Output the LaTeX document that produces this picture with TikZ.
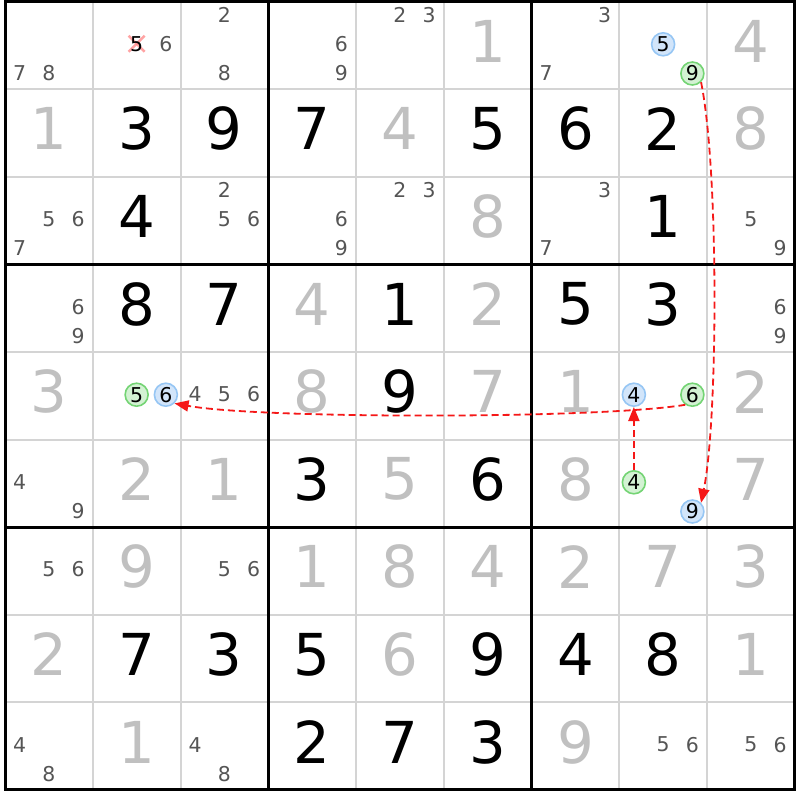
\documentclass[tikz,border=0pt]{standalone}
\usepackage{fontspec}
\setmainfont{DejaVu Sans}
\usetikzlibrary{arrows.meta}
\definecolor{candgray}{HTML}{555555}
\definecolor{solvedgray}{HTML}{C0C0C0}
\definecolor{minorline}{HTML}{D4D4D4}
\definecolor{bluefill}{HTML}{D2E5FA}
\definecolor{bluedraw}{HTML}{96C6F4}
\definecolor{greenfill}{HTML}{D3F2D3}
\definecolor{greendraw}{HTML}{74D474}
\definecolor{linkred}{HTML}{F51818}
\begin{document}
\begin{tikzpicture}[x=1bp,y=-1bp,
  big/.style={inner sep=0pt, font=\fontsize{58}{58}\selectfont},
  given/.style={big, text=black},
  solved/.style={big, text=solvedgray},
  cand/.style={inner sep=0pt, font=\fontsize{20.5}{20.5}\selectfont, text=candgray},
  circ/.style={circle, line width=1.6bp, minimum size=23bp, inner sep=0pt, font=\fontsize{20.5}{20.5}\selectfont, text=black},
  bluec/.style={circ, draw=bluedraw, fill=bluefill},
  greenc/.style={circ, draw=greendraw, fill=greenfill},
  minor/.style={draw=minorline, line width=2bp},
  major/.style={draw=black, line width=3bp},
  link/.style={draw=linkred, dash pattern=on 7bp off 4bp, line width=1.8bp, -{Triangle[length=14bp,width=11bp]}},
  xmark/.style={draw=red!45, line width=2.5bp, opacity=0.8}
]
\def\xo{5}\def\yo{1.5}\def\cw{87.75}\def\ch{87.6}
\useasboundingbox (0,0) rectangle (800,800);
\fill[white] (0,0) rectangle (800,800);
% grid
\foreach \i in {1,2,4,5,7,8} {
  \draw[minor] ({\xo+\i*\cw},\yo) -- ({\xo+\i*\cw},{\yo+9*\ch});
  \draw[minor] (\xo,{\yo+\i*\ch}) -- ({\xo+9*\cw},{\yo+\i*\ch});
}
\foreach \i in {3,6} {
  \draw[major] ({\xo+\i*\cw},\yo) -- ({\xo+\i*\cw},{\yo+9*\ch});
  \draw[major] (\xo,{\yo+\i*\ch}) -- ({\xo+9*\cw},{\yo+\i*\ch});
}
\draw[major] (\xo,\yo) rectangle ({\xo+9*\cw},{\yo+9*\ch});
% given digits
\foreach \r/\c/\d in {2/2/3,2/3/9,2/4/7,2/6/5,2/7/6,2/8/2,3/2/4,3/8/1,
  4/2/8,4/3/7,4/5/1,4/7/5,4/8/3,5/5/9,6/4/3,6/6/6,
  8/2/7,8/3/3,8/4/5,8/6/9,8/7/4,8/8/8,9/4/2,9/5/7,9/6/3}
  \node[given] (v\r\c) at ({\xo+(\c-0.5)*\cw},{\yo+(\r-0.5)*\ch-4}) {\d};
% solved digits
\foreach \r/\c/\d in {1/6/1,1/9/4,2/1/1,2/5/4,2/9/8,3/6/8,4/4/4,4/6/2,
  5/1/3,5/4/8,5/6/7,5/7/1,5/9/2,6/2/2,6/3/1,6/5/5,6/7/8,6/9/7,
  7/2/9,7/4/1,7/5/8,7/6/4,7/7/2,7/8/7,7/9/3,8/1/2,8/5/6,8/9/1,9/2/1,9/7/9}
  \node[solved] (v\r\c) at ({\xo+(\c-0.5)*\cw},{\yo+(\r-0.5)*\ch-4}) {\d};
% candidates
\foreach \r/\c/\d in {1/1/7,1/1/8,1/2/6,1/3/2,1/3/8,1/4/6,1/4/9,1/5/2,1/5/3,1/7/3,1/7/7,
  3/1/5,3/1/6,3/1/7,3/3/2,3/3/5,3/3/6,3/4/6,3/4/9,3/5/2,3/5/3,3/7/3,3/7/7,3/9/5,3/9/9,
  4/1/6,4/1/9,4/9/6,4/9/9,5/3/4,5/3/5,5/3/6,6/1/4,6/1/9,7/1/5,7/1/6,7/3/5,7/3/6,
  9/1/4,9/1/8,9/3/4,9/3/8,9/8/5,9/8/6,9/9/5,9/9/6} {
  \pgfmathsetmacro\px{\xo+(\c-1)*\cw+(mod(\d-1,3)+0.5)*\cw/3}
  \pgfmathsetmacro\py{\yo+(\r-1)*\ch+(floor((\d-1)/3)+0.5)*\ch/3-1.5}
  \node[cand] (k\r\c\d) at (\px,\py) {\d};
}
% eliminated candidate
\coordinate (x125) at ({\xo+\cw+1.5*\cw/3},{\yo+1.5*\ch/3-1.5});
\draw[xmark] ([shift={(-8,-8)}]x125) -- ([shift={(8,8)}]x125);
\draw[xmark] ([shift={(-8,8)}]x125) -- ([shift={(8,-8)}]x125);
\node[cand, text=black] (k125) at (x125) {5};
% highlighted candidates
\foreach \r/\c/\d/\s in {1/8/5/bluec,1/8/9/greenc,5/2/5/greenc,5/2/6/bluec,
  5/8/4/bluec,5/8/6/greenc,6/8/4/greenc,6/8/9/bluec} {
  \pgfmathsetmacro\px{\xo+(\c-1)*\cw+(mod(\d-1,3)+0.5)*\cw/3}
  \pgfmathsetmacro\py{\yo+(\r-1)*\ch+(floor((\d-1)/3)+0.5)*\ch/3-1}
  \node[\s] (k\r\c\d) at (\px,\py) {\d};
}
% links
\draw[link] (k189.-45) .. controls (719,170) and (718,420) .. (k689.45);
\draw[link] (k586.235) .. controls (600,419) and (260,419) .. (k526.-45);
\draw[link] (k684.north) -- (k584.south);
\end{tikzpicture}
\end{document}
